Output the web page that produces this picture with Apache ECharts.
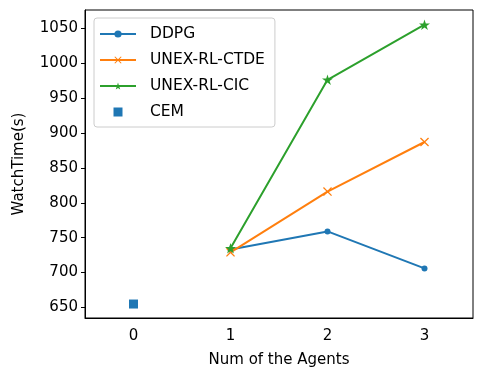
<!DOCTYPE html>
<html>
<head>
<meta charset="utf-8">
<script src="https://cdn.jsdelivr.net/npm/echarts@6/dist/echarts.min.js"></script>
<style>
  html, body { margin: 0; padding: 0; background: #fff; }
  #chart { width: 482px; height: 379px; }
</style>
</head>
<body>
<div id="chart"></div>
<script>
// 数据
const agents = ['0', '1', '2', '3'];
const ddpg = ['-', 733, 759, 706];
const unexCtde = ['-', 729, 816, 887];
const unexCic = ['-', 735, 976, 1055];
const cem = [[0, 655]];
const yTicks = [650, 700, 750, 800, 850, 900, 950, 1000, 1050];

// 标记形状
const crossPath = 'path://M0,1L1,0L5,4L9,0L10,1L6,5L10,9L9,10L5,6L1,10L0,9L4,5Z';
const starPath = 'path://M50,0L61.23,34.55L97.55,34.55L68.16,55.9L79.39,90.45L50,69.1L20.61,90.45L31.84,55.9L2.45,34.55L38.77,34.55Z';
const squarePath = 'path://M0,0H10V10H0Z';

const font = 'DejaVu Sans';
const chart = echarts.init(document.getElementById('chart'));

function lineSeries(name, data, color, symbol, size) {
    return {
        name: name,
        type: 'line',
        data: data,
        symbol: symbol,
        symbolSize: size,
        symbolKeepAspect: true,
        showAllSymbol: true,
        lineStyle: { color: color, width: 2 },
        itemStyle: { color: color },
        emphasis: { disabled: true },
        animation: false
    };
}

chart.setOption({
    animation: false,
    textStyle: { fontFamily: font, color: '#000' },
    grid: { left: 85, right: 9, top: 10, bottom: 61, show: true, borderColor: '#000', borderWidth: 1 },
    legend: {
        orient: 'vertical',
        left: 94,
        top: 18,
        padding: [8, 10, 7, 5],
        itemWidth: 36,
        itemHeight: 9,
        itemGap: 10,
        borderColor: '#ccc',
        borderWidth: 1,
        borderRadius: 3,
        backgroundColor: 'rgba(255,255,255,0.8)',
        textStyle: { fontFamily: font, fontSize: 15.5, color: '#000', padding: [0, 0, 0, 9] },
        data: [
            { name: 'DDPG' },
            { name: 'UNEX-RL-CTDE' },
            { name: 'UNEX-RL-CIC' },
            { name: 'CEM', icon: squarePath }
        ]
    },
    xAxis: {
        type: 'category',
        data: agents,
        boundaryGap: true,
        name: 'Num of the Agents',
        nameLocation: 'middle',
        nameGap: 35,
        nameTextStyle: { fontFamily: font, fontSize: 15, color: '#000' },
        axisLine: { lineStyle: { color: '#000', width: 1 } },
        axisTick: { alignWithLabel: true, length: 4, lineStyle: { color: '#000' } },
        axisLabel: { fontFamily: font, fontSize: 15, color: '#000', margin: 11 },
        splitLine: { show: false }
    },
    yAxis: {
        type: 'value',
        min: 635,
        max: 1076,
        name: 'WatchTime(s)',
        nameLocation: 'middle',
        nameGap: 58,
        nameTextStyle: { fontFamily: font, fontSize: 15, color: '#000' },
        axisLine: { show: true, lineStyle: { color: '#000', width: 1 } },
        axisTick: { show: true, length: 4, lineStyle: { color: '#000' }, customValues: yTicks },
        axisLabel: {
            fontFamily: font, fontSize: 15, color: '#000', margin: 7,
            customValues: yTicks,
            formatter: v => String(v)
        },
        splitLine: { show: false }
    },
    series: [
        lineSeries('DDPG', ddpg, '#1f77b4', 'circle', 6),
        lineSeries('UNEX-RL-CTDE', unexCtde, '#ff7f0e', crossPath, 9),
        lineSeries('UNEX-RL-CIC', unexCic, '#2ca02c', starPath, 11),
        {
            name: 'CEM',
            type: 'scatter',
            data: cem,
            symbol: 'rect',
            symbolSize: 9,
            itemStyle: { color: '#1f77b4', opacity: 1 },
            emphasis: { disabled: true }
        }
    ]
});
</script>
</body>
</html>
